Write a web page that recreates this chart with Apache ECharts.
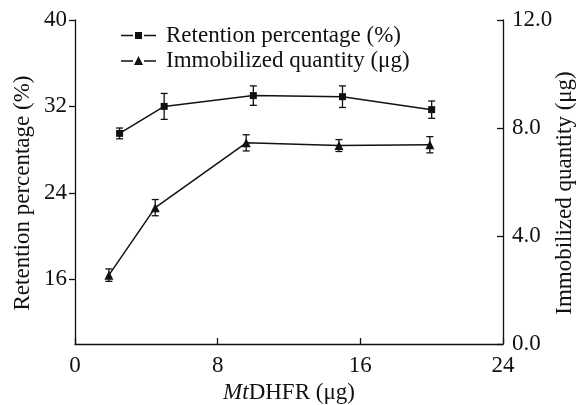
<!DOCTYPE html>
<html>
<head>
<meta charset="utf-8">
<script src="https://cdn.jsdelivr.net/npm/echarts@6/dist/echarts.min.js"></script>
<style>
  html, body { margin: 0; padding: 0; background: #fff; }
  #chart { width: 581px; height: 405px; }
</style>
</head>
<body>
<div id="chart"></div>
<script>
// x positions (MtDHFR, µg)
const retentionX = [2.5, 5, 10, 15, 20];
const retentionY = [29.5, 32.0, 33.0, 32.9, 31.7];
const retentionErr = [0.5, 1.2, 0.9, 1.0, 0.8];

const immobX = [1.9, 4.5, 9.6, 14.8, 19.9];
const immobY = [2.55, 5.05, 7.45, 7.35, 7.38];
const immobErr = [0.23, 0.3, 0.3, 0.22, 0.3];

const leftTicks = [16, 24, 32, 40];
const rightTicks = [0, 4, 8, 12];
const xTicks = [0, 8, 16, 24];

const font = "'Liberation Serif', 'Times New Roman', serif";
const ink = "#111";
const fs = 23;

const chart = echarts.init(document.getElementById("chart"));

const errorBar = (params, api) => {
  const x = api.value(0);
  const top = api.coord([x, api.value(2)]);
  const bot = api.coord([x, api.value(1)]);
  const w = 3.5;
  const style = { stroke: ink, lineWidth: 1.3 };
  return {
    type: "group",
    children: [
      { type: "line", shape: { x1: top[0], y1: top[1], x2: bot[0], y2: bot[1] }, style },
      { type: "line", shape: { x1: top[0] - w, y1: top[1], x2: top[0] + w, y2: top[1] }, style },
      { type: "line", shape: { x1: bot[0] - w, y1: bot[1], x2: bot[0] + w, y2: bot[1] }, style },
    ],
  };
};

const legendIcon = (mark) =>
  "path://M0,9.2 L12,9.2 L12,10.8 L0,10.8 Z M23,9.2 L35,9.2 L35,10.8 L23,10.8 Z " + mark;

const option = {
  animation: false,
  textStyle: { fontFamily: font, color: ink },
  grid: { left: 75, right: 78, top: 20, bottom: 61, outerBoundsMode: "none", containLabel: false },
  legend: {
    orient: "vertical",
    left: 116,
    top: 19,
    itemWidth: 35,
    itemHeight: 20,
    itemGap: 2,
    textStyle: { fontFamily: font, fontSize: fs, color: ink, lineHeight: 20, padding: [0, 0, 0, 5] },
    data: [
      { name: "Retention percentage (%)", icon: legendIcon("M14,6.5 L21,6.5 L21,13.5 L14,13.5 Z") },
      { name: "Immobilized quantity (\u03bcg)", icon: legendIcon("M17.5,5 L22,14 L13,14 Z") },
    ],
  },
  xAxis: {
    type: "value",
    min: 0,
    max: 24,
    interval: 8,
    name: "{i|Mt}DHFR (\u03bcg)",
    nameLocation: "middle",
    nameGap: 37,
    nameMoveOverlap: false,
    nameTextStyle: {
      fontSize: fs,
      color: ink,
      rich: { i: { fontStyle: "italic", fontSize: fs, fontFamily: font, color: ink } },
    },
    axisLine: { lineStyle: { color: ink, width: 1.3 } },
    axisTick: { inside: true, length: 6, lineStyle: { color: ink, width: 1.3 } },
    axisLabel: { fontSize: fs, color: ink, margin: 10, customValues: xTicks },
    splitLine: { show: false },
  },
  yAxis: [
    {
      type: "value",
      min: 10,
      max: 40,
      name: "Retention percentage (%)",
      nameLocation: "middle",
      nameGap: 41,
      nameMoveOverlap: false,
      nameTextStyle: { fontSize: fs, color: ink, padding: [0, 0, 0, -22] },
      axisLine: { show: true, lineStyle: { color: ink, width: 1.3 } },
      axisTick: { show: true, length: 6, customValues: leftTicks, lineStyle: { color: ink, width: 1.3 } },
      axisLabel: { fontSize: fs, color: ink, margin: 8, customValues: leftTicks },
      splitLine: { show: false },
    },
    {
      type: "value",
      min: 0,
      max: 12,
      interval: 4,
      position: "right",
      name: "Immobilized quantity (\u03bcg)",
      nameLocation: "middle",
      nameGap: 50,
      nameMoveOverlap: false,
      nameRotate: 90,
      nameTextStyle: { fontSize: fs, color: ink, padding: [0, 0, 0, -22] },
      axisLine: { show: true, lineStyle: { color: ink, width: 1.3 } },
      axisTick: { show: true, inside: true, length: 6, customValues: rightTicks, lineStyle: { color: ink, width: 1.3 } },
      axisLabel: {
        fontSize: fs,
        color: ink,
        margin: 9,
        customValues: rightTicks,
        formatter: (v) => v.toFixed(1),
      },
      splitLine: { show: false },
    },
  ],
  series: [
    {
      name: "Retention percentage (%)",
      type: "line",
      yAxisIndex: 0,
      data: retentionX.map((x, i) => [x, retentionY[i]]),
      symbol: "rect",
      symbolSize: 7,
      lineStyle: { color: ink, width: 1.5 },
      itemStyle: { color: ink },
      z: 3,
    },
    {
      name: "Immobilized quantity (\u03bcg)",
      type: "line",
      yAxisIndex: 1,
      data: immobX.map((x, i) => [x, immobY[i]]),
      symbol: "triangle",
      symbolSize: 9,
      lineStyle: { color: ink, width: 1.5 },
      itemStyle: { color: ink },
      z: 3,
    },
    {
      type: "custom",
      yAxisIndex: 0,
      renderItem: errorBar,
      data: retentionX.map((x, i) => [x, retentionY[i] - retentionErr[i], retentionY[i] + retentionErr[i]]),
      encode: { x: 0, y: [1, 2] },
      z: 2,
      silent: true,
    },
    {
      type: "custom",
      yAxisIndex: 1,
      renderItem: errorBar,
      data: immobX.map((x, i) => [x, immobY[i] - immobErr[i], immobY[i] + immobErr[i]]),
      encode: { x: 0, y: [1, 2] },
      z: 2,
      silent: true,
    },
  ],
};

chart.setOption(option);
</script>
</body>
</html>
